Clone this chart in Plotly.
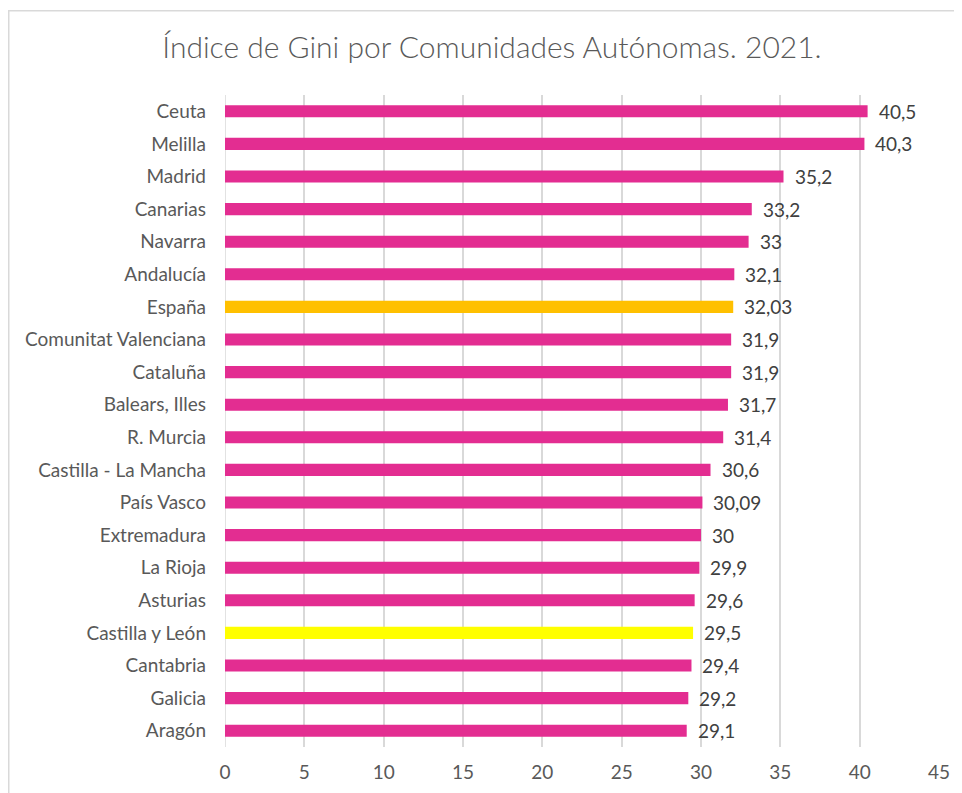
import plotly.graph_objects as go

regions = ["Ceuta", "Melilla", "Madrid", "Canarias", "Navarra", "Andalucía", "España",
           "Comunitat Valenciana", "Cataluña", "Balears, Illes", "R. Murcia",
           "Castilla - La Mancha", "País Vasco", "Extremadura", "La Rioja", "Asturias",
           "Castilla y León", "Cantabria", "Galicia", "Aragón"]
gini = [40.5, 40.3, 35.2, 33.2, 33, 32.1, 32.03, 31.9, 31.9, 31.7, 31.4,
        30.6, 30.09, 30, 29.9, 29.6, 29.5, 29.4, 29.2, 29.1]
x_ticks = [0, 5, 10, 15, 20, 25, 30, 35, 40, 45]

PINK = "#E32D91"
highlight = {"España": "#FFC000", "Castilla y León": "#FFFF00"}
colors = [highlight.get(r, PINK) for r in regions]
labels = [f"{v:g}".replace(".", ",") for v in gini]

FONT = "Lato, Carlito, sans-serif"
# page body has an 8px margin; figure sized to fit the window
W, H = 954, 785
ml, mr, mt, mb = 217, 23, 87, 45.5
pw, ph = W - ml - mr, H - mt - mb

def px_x(p):
    return (p - ml) / pw

def px_y(p):
    return (H - mb - p) / ph

fig = go.Figure(go.Bar(
    x=gini, y=regions, orientation="h",
    marker=dict(color=colors, line=dict(width=0)),
    hoverinfo="skip",
))

annotations = [dict(x=v, y=r, xref="x", yref="y", text=t, showarrow=False,
                    xanchor="left", yanchor="middle", xshift=9,
                    font=dict(family=FONT, size=19, color="#404040"))
               for v, r, t in zip(gini, regions, labels)]

fig.update_layout(
    width=W, height=H,
    margin=dict(l=ml, r=mr, t=mt, b=mb, autoexpand=False),
    paper_bgcolor="white", plot_bgcolor="white",
    bargap=0.63,
    showlegend=False,
    title=dict(text="Índice de Gini por Comunidades Autónomas. 2021.",
               x=484 / W, xanchor="center", xref="container",
               y=1 - 39 / H, yanchor="middle", yref="container",
               font=dict(family=FONT, size=30, color="#595959", weight=300)),
    font=dict(family=FONT, size=19, color="#595959"),
    xaxis=dict(range=[0, 45], tickvals=x_ticks, showgrid=True, gridcolor="#D9D9D9",
               gridwidth=1.5, zeroline=False, showline=False, ticks="",
               ticklabelstandoff=12, automargin=False,
               tickfont=dict(size=19, color="#595959"), fixedrange=True),
    yaxis=dict(autorange="reversed", showgrid=False, showline=False, zeroline=False,
               ticks="", ticklabelstandoff=18, automargin=False,
               tickfont=dict(size=19, color="#595959"), fixedrange=True),
    annotations=annotations,
    shapes=[dict(type="rect", xref="paper", yref="paper",
                 x0=px_x(0.75), x1=px_x(990), y0=px_y(820), y1=px_y(2.75),
                 line=dict(color="#D9D9D9", width=1.5), fillcolor="rgba(0,0,0,0)",
                 layer="below"),
            dict(type="line", xref="x", yref="paper", x0=0, x1=0, y0=0, y1=1,
                 line=dict(color="#D9D9D9", width=1.5), layer="below")],
)

fig.write_html("out.html")
